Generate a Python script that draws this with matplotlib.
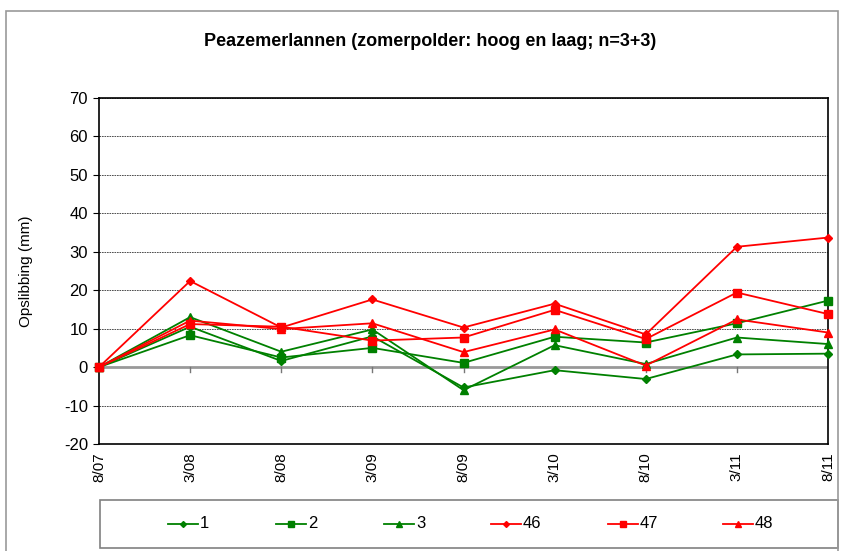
import matplotlib.pyplot as plt
from matplotlib.patches import Rectangle
from matplotlib.lines import Line2D

plt.rcParams["font.family"] = ["Liberation Sans", "DejaVu Sans"]
plt.rcParams["axes.unicode_minus"] = False

dates = ["8/07", "3/08", "8/08", "3/09", "8/09", "3/10", "8/10", "3/11", "8/11"]

# green: hoog, red: laag
s1 = [0, 10.5, 1.6, 8.0, -5.3, -0.8, -3.1, 3.3, 3.5]
s2 = [0, 8.3, 2.5, 5.0, 1.1, 7.9, 6.4, 11.4, 17.3]
s3 = [0, 13.0, 4.0, 9.8, -6.0, 5.7, 0.8, 7.7, 6.0]
s46 = [0, 22.4, 10.3, 17.6, 10.3, 16.5, 8.5, 31.3, 33.7]
s47 = [0, 11.2, 10.5, 6.9, 7.7, 14.9, 7.3, 19.4, 13.8]
s48 = [0, 12.1, 9.9, 11.4, 3.9, 9.8, 0.4, 12.4, 9.0]

series = [
    ("1", s1, "#008000", "D", 4),
    ("2", s2, "#008000", "s", 6),
    ("3", s3, "#008000", "^", 6),
    ("46", s46, "#ff0000", "D", 4),
    ("47", s47, "#ff0000", "s", 6),
    ("48", s48, "#ff0000", "^", 6),
]

fig = plt.figure(figsize=(8.41, 5.51), dpi=100)
ax = fig.add_axes([99 / 841, 1 - 444 / 551, 729 / 841, 346 / 551])

x = list(range(len(dates)))
for name, vals, col, mk, ms in series:
    ax.plot(x, vals, color=col, marker=mk, markersize=ms, linewidth=1.3,
            markeredgecolor=col, clip_on=False, zorder=3)

ax.set_xlim(0, len(dates) - 1)
ax.set_ylim(-20, 70)
ax.set_yticks(range(-20, 71, 10))
ax.set_xticks(x)
ax.set_xticklabels(dates, rotation=90, fontsize=11)
ax.tick_params(axis="y", labelsize=12, direction="out", length=4, width=0.8, pad=4)
ax.tick_params(axis="x", length=0, pad=6)

for yv in range(-10, 71, 10):
    if yv == 0:
        continue
    ax.axhline(yv, color="#333333", linestyle=(0, (2, 1)), linewidth=0.6, zorder=1)
ax.axhline(0, color="#999999", linewidth=2, zorder=2)
# small tick marks hanging from the zero line
for xi in x[1:-1]:
    ax.plot([xi, xi], [0, -1.2], color="#777777", linewidth=1, zorder=2)

for sp in ax.spines.values():
    sp.set_color("black")
    sp.set_linewidth(1.2)

ax.set_ylabel("Opslibbing (mm)", fontsize=11, labelpad=22)
fig.text(430 / 841, 1 - 42 / 551, "Peazemerlannen (zomerpolder: hoog en laag; n=3+3)",
         ha="center", va="center", fontsize=13, fontweight="bold")

# legend box below the plot
fig.patches.append(Rectangle((100 / 841, 1 - 548 / 551), 738 / 841, 48 / 551,
                             transform=fig.transFigure, fill=False,
                             edgecolor="#808080", linewidth=1.2))
leg_x = [168, 276, 384, 491, 608, 723]
for lx, (name, vals, col, mk, ms) in zip(leg_x, series):
    fy = 1 - 524 / 551
    fig.lines.append(Line2D([lx / 841, (lx + 30) / 841], [fy, fy], transform=fig.transFigure,
                            color=col, linewidth=1.3))
    fig.lines.append(Line2D([(lx + 15) / 841], [fy], transform=fig.transFigure,
                            color=col, marker=mk, markersize=ms - 1))
    fig.text((lx + 32) / 841, fy, name, ha="left", va="center", fontsize=12)

# outer chart border
fig.patches.append(Rectangle((6 / 841, -0.01), 832 / 841, 1 - 11 / 551 + 0.01,
                             transform=fig.transFigure, fill=False,
                             edgecolor="#999999", linewidth=1.2))

fig.savefig("out.png", dpi=100)
